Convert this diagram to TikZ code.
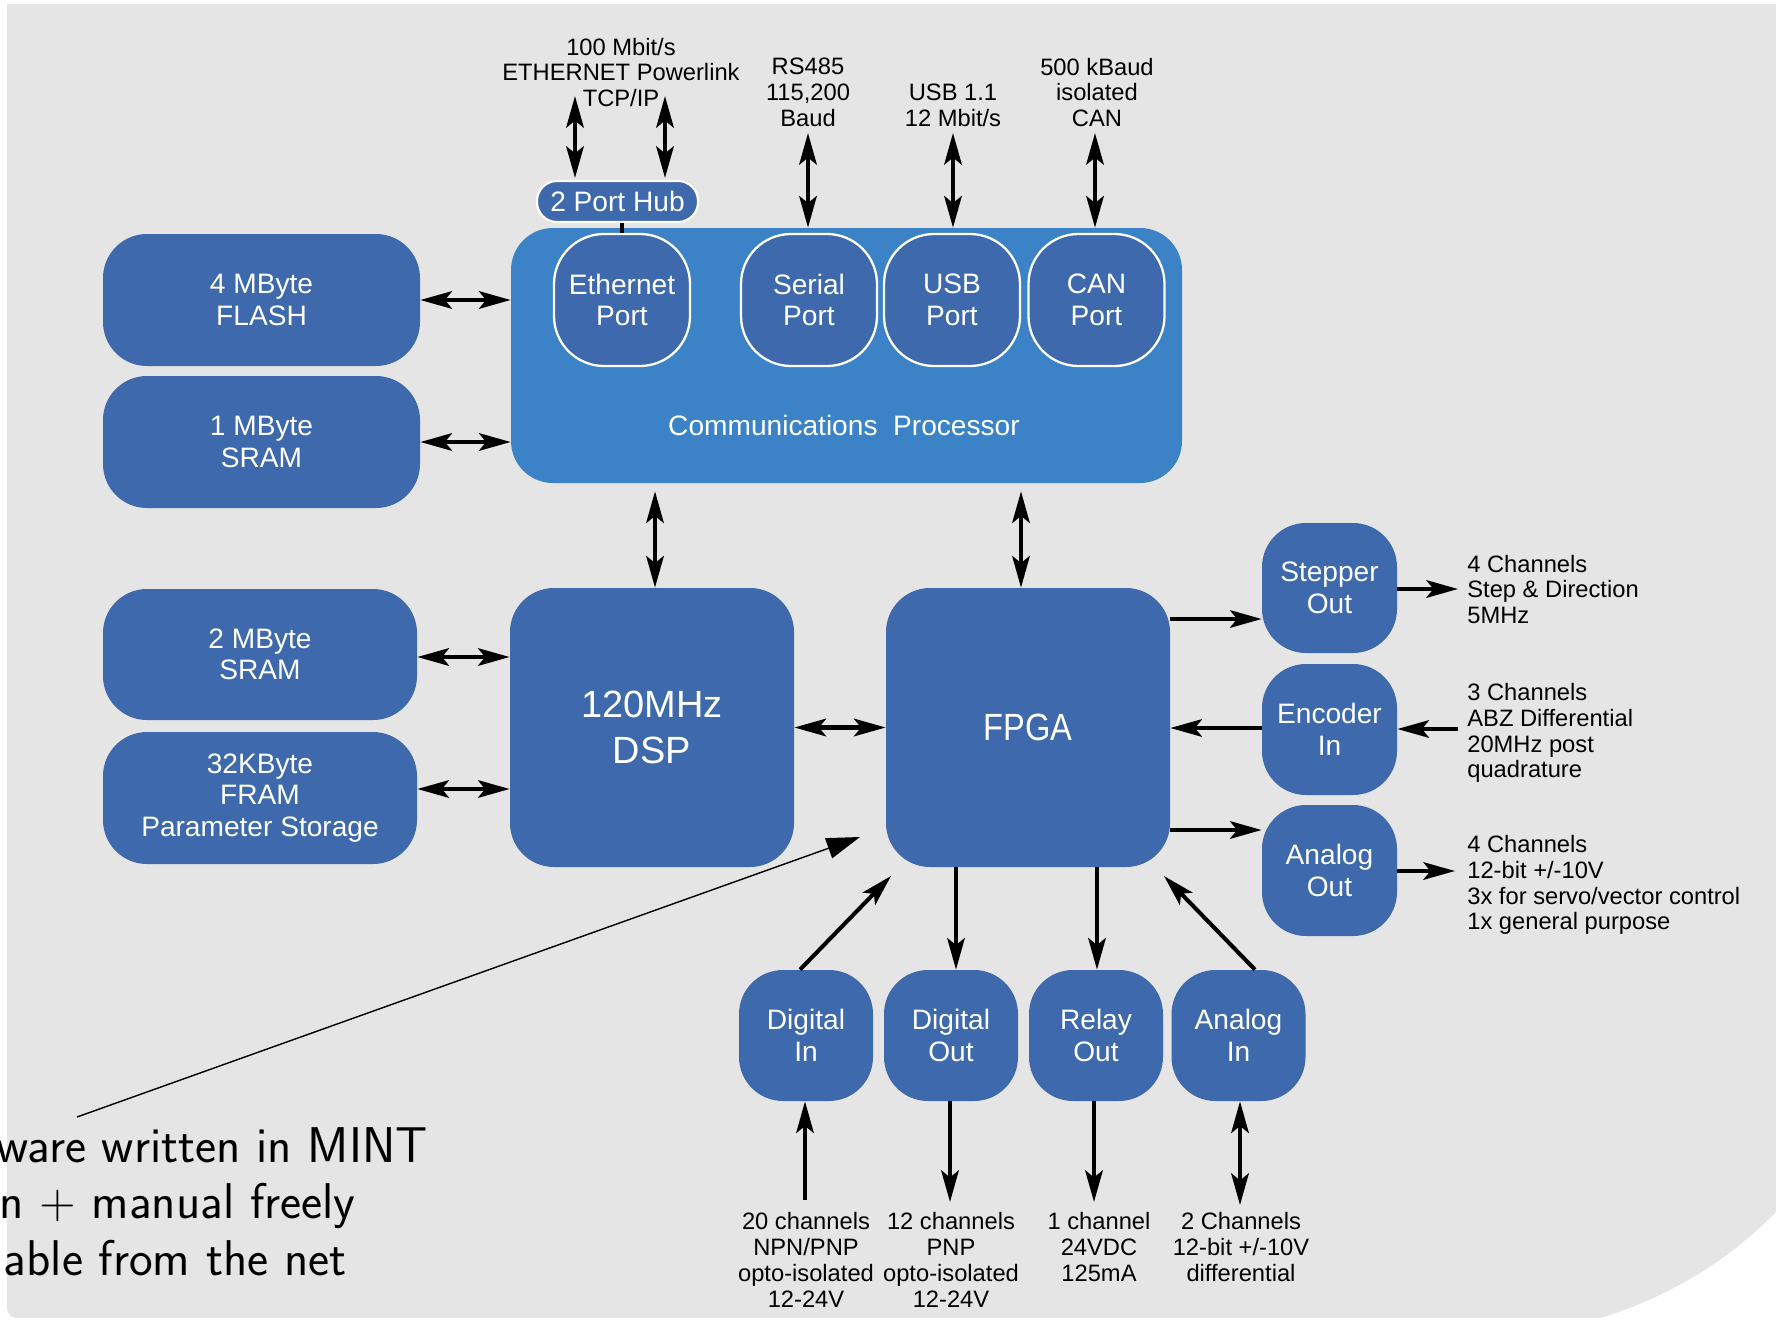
\documentclass[tikz,border=0pt]{standalone}
\usepackage{fontspec}
\setmainfont{Liberation Sans}
\newfontfamily\condfont[FakeStretch=0.86]{Liberation Sans}
\usetikzlibrary{arrows.meta,calc}
\definecolor{bggrey}{RGB}{229,229,229}
\definecolor{nodeblue}{RGB}{62,105,172}
\definecolor{commblue}{RGB}{59,131,198}
\begin{document}
\begin{tikzpicture}[x=0.02cm,y=-0.02cm,
 blk/.style={fill=nodeblue,text=white,inner sep=0pt,align=center,font=\fontsize{16}{18}\selectfont,rounded corners=0.88cm},
 sz/.style 2 args={minimum width=#1*0.02cm,minimum height=#2*0.02cm},
 port/.style={blk,draw=white,line width=1.3pt,rounded corners=1.0cm},
 lbl/.style={inner sep=0pt,align=center,font=\fontsize{13.5}{14.7}\selectfont},
 lbll/.style={lbl,align=left,anchor=west},
 arr/.style={line width=2.3pt,-{Stealth[length=18pt,width=10pt,inset=4pt]}},
 dbl/.style={line width=2.3pt,{Stealth[length=18pt,width=10pt,inset=4pt]}-{Stealth[length=18pt,width=10pt,inset=4pt]}},
 ann/.style={font=\sffamily\fontsize{28.6}{33}\selectfont,anchor=base east,inner sep=0pt}
]
\useasboundingbox (0,0) rectangle (1776,1322);
\fill[bggrey] (7,4) -- (1776,4) -- (1776,1212) .. controls (1727.4,1261.6) and (1666.6,1298.1) .. (1600,1318) -- (17,1318) .. controls (11.5,1318) and (7,1313.5) .. (7,1308) -- cycle;

% memory blocks
\node[blk,sz={317}{132}] (flash) at (261.5,300) {4 MByte\\FLASH};
\node[blk,sz={317}{132}] (sram1) at (261.5,442) {1 MByte\\SRAM};
\node[blk,sz={314}{131}] (sram2) at (260,654.5) {2 MByte\\SRAM};
\node[blk,sz={314}{132}] (fram) at (260,798) {32KByte\\FRAM\\Parameter Storage};

% communications processor
\node[blk,fill=commblue,sz={671}{255},rounded corners=0.84cm] (comm) at (846.5,355.5) {};
\node[text=white,inner sep=0pt,font=\fontsize{16}{18}\selectfont] (commtxt) at (844,425) {Communications~~Processor};
\node[port,sz={136}{132}] (eth) at (622,300) {Ethernet\\Port};
\node[port,sz={136}{132}] (ser) at (809,300) {Serial\\Port};
\node[port,sz={136}{132}] (usb) at (952,300) {USB\\Port};
\node[port,sz={136}{132}] (can) at (1096.5,300) {CAN\\Port};
\node[blk,draw=white,line width=1.2pt,sz={161}{41},rounded corners=0.4cm] (hub) at (617.5,201.5) {2 Port Hub};

% processors
\node[blk,sz={284}{279},font=\fontsize{21.6}{25.7}\selectfont] (dsp) at (652,727.5) {120MHz\\DSP};
\node[blk,sz={284}{279},font=\condfont\fontsize{21.6}{25.7}\selectfont] (fpga) at (1028,727.5) {FPGA};

% right I/O
\node[blk,sz={135}{130}] (step) at (1329.5,588) {Stepper\\Out};
\node[blk,sz={135}{131}] (enc) at (1329.5,729.5) {Encoder\\In};
\node[blk,sz={135}{131}] (aout) at (1329.5,870.5) {Analog\\Out};

% bottom I/O
\node[blk,sz={134}{131}] (din) at (806,1035.5) {Digital\\In};
\node[blk,sz={134}{131}] (dout) at (951,1035.5) {Digital\\Out};
\node[blk,sz={134}{131}] (relay) at (1096,1035.5) {Relay\\Out};
\node[blk,sz={134}{131}] (ain) at (1238.5,1035.5) {Analog\\In};

% labels
\node[lbl] (ethlbl) at (621,72.5) {100 Mbit/s\\ETHERNET Powerlink\\TCP/IP};
\node[lbl] (serlbl) at (808,92.5) {RS485\\115,200\\Baud};
\node[lbl] (usblbl) at (953,105) {USB 1.1\\12 Mbit/s};
\node[lbl] (canlbl) at (1097,92.5) {500 kBaud\\isolated\\CAN};
\node[lbll] (steplbl) at (1467,589.5) {4 Channels\\Step \& Direction\\5MHz};
\node[lbll] (enclbl) at (1467,733) {3 Channels\\ABZ Differential\\20MHz post\\quadrature};
\node[lbll] (aoutlbl) at (1467,885) {4 Channels\\12-bit +/-10V\\3x for servo/vector control\\1x general purpose};
\node[lbl] (dinlbl) at (806,1260) {20 channels\\NPN/PNP\\opto-isolated\\12-24V};
\node[lbl] (doutlbl) at (951,1260) {12 channels\\PNP\\opto-isolated\\12-24V};
\node[lbl] (rlbl) at (1099,1247) {1 channel\\24VDC\\125mA};
\node[lbl] (ainlbl) at (1241,1247) {2 Channels\\12-bit +/-10V\\differential};

% connectors: memories
\draw[dbl] (flash.east) -- (flash.east -| comm.west);
\draw[dbl] (sram1.east) -- (sram1.east -| comm.west);
\draw[dbl] (sram2.east |- 0,657) -- (dsp.west |- 0,657);
\draw[dbl] (fram.east |- 0,789) -- (dsp.west |- 0,789);

% processors
\draw[dbl] ($(comm.south -| 655,0)+(0,8)$) -- (dsp.north -| 655,0);
\draw[dbl] ($(comm.south -| 1021,0)+(0,8)$) -- (fpga.north -| 1021,0);
\draw[dbl] (dsp.east) -- (fpga.west);

% FPGA right side
\draw[arr] (fpga.east |- 0,619) -- (step.west |- 0,619);
\draw[arr] (enc.west |- 0,728) -- (fpga.east |- 0,728);
\draw[arr] (fpga.east |- 0,830) -- (aout.west |- 0,830);
\coordinate (steptip) at (1458,589);
\coordinate (encend) at (1458,729);
\coordinate (aouttip) at (1455,871);
\draw[arr] (step.east |- steptip) -- (steptip);
\draw[arr] (encend) -- (enc.east |- encend);
\draw[arr] (aout.east |- aouttip) -- (aouttip);

% top side
\coordinate (e1) at (575,96);
\coordinate (e2) at (665,96);
\draw[dbl] ($(hub.north -| e1)+(0,-2)$) -- (e1);
\draw[dbl] ($(hub.north -| e2)+(0,-2)$) -- (e2);
\draw[line width=2.2pt] (hub.south -| eth.north) -- (eth.north);
\coordinate (st) at (808,133);
\coordinate (ut) at (953,133);
\coordinate (ct) at (1095,133);
\draw[dbl] (comm.north -| st) -- (st);
\draw[dbl] (comm.north -| ut) -- (ut);
\draw[dbl] (comm.north -| ct) -- (ct);

% bottom side
\draw[arr] (fpga.south -| 956,0) -- (dout.north -| 956,0);
\draw[arr] (fpga.south -| 1097,0) -- (relay.north -| 1097,0);
\coordinate (dintip) at (891,876);
\coordinate (aintip) at (1164,876);
\draw[arr] (din.north -| 800,0) -- (dintip);
\draw[arr] (ain.north -| 1255,0) -- (aintip);
\coordinate (dinsrc) at (805,1200);
\coordinate (douttip) at (950,1202);
\coordinate (rtip) at (1094,1202);
\coordinate (aend) at (1240,1205);
\draw[arr] (dinsrc) -- (din.south -| dinsrc);
\draw[arr] (dout.south -| douttip) -- (douttip);
\draw[arr] (relay.south -| rtip) -- (rtip);
\draw[dbl] (ain.south -| aend) -- (aend);

% annotation
\coordinate (annstart) at (77,1117);
\coordinate (anntip) at (860,837);
\draw[line width=0.8pt,-{Triangle[length=19pt,width=12pt]}] (annstart) -- (anntip);
\node[ann] (ann1) at (428,1162) {ware written in MINT};
\node[ann] (ann2) at (356,1218) {n + manual freely};
\node[ann] (ann3) at (347,1275) {able from the net};
\end{tikzpicture}
\end{document}
